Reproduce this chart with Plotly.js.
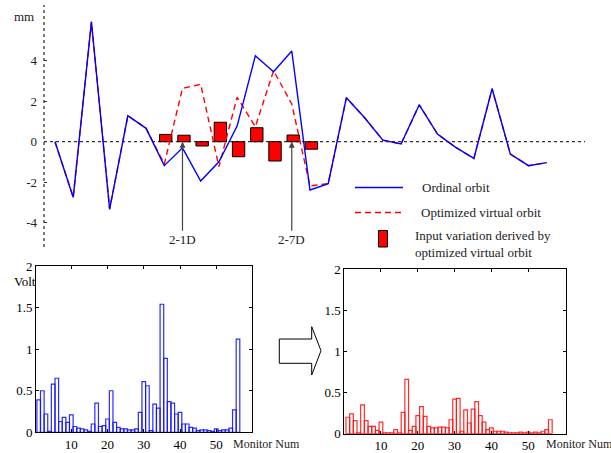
<!DOCTYPE html>
<html>
<head>
<meta charset="utf-8">
<script src="https://cdn.plot.ly/plotly-3.0.1.min.js"></script>
<style>html,body{margin:0;padding:0;background:#fff;}#chart{width:611px;height:453px;}</style>
</head>
<body>
<div id="chart"></div>
<script>
// ---- Top panel: orbit (mm) at 28 monitors ----
const monitorIdx = [1,2,3,4,5,6,7,8,9,10,11,12,13,14,15,16,17,18,19,20,21,22,23,24,25,26,27,28];
const ordinalOrbit = [0, -2.74, 5.91, -3.32, 1.28, 0.66, -1.18, -0.30, -1.94, -0.99, 0.77, 4.24, 3.45, 4.47,
                      -2.38, -2.07, 2.17, 1.18, 0.08, -0.11, 1.82, 0.38, -0.28, -0.82, 2.61, -0.61, -1.18, -1.03];
const optimizedOrbit = [0, -2.74, 5.91, -3.32, 1.28, 0.66, -1.10, 2.63, 2.83, -1.23, 2.19, 0.74, 3.50, 1.86,
                        -2.18, -2.07, 2.17, 1.18, 0.08, -0.11, 1.82, 0.38, -0.28, -0.82, 2.61, -0.61, -1.18, -1.03];
const inputIdx = [7, 8, 9, 10, 11, 12, 13, 14, 15];
const inputVariation = [0.36, 0.32, -0.21, 0.96, -0.74, 0.69, -0.95, 0.33, -0.37];
const topYTicks = [-4, -2, 0, 2, 4];
const topYTickText = ['-4', '-2', '0', '2', '4'];
const arrowLabels = ['2-1D', '2-7D'];
const arrowIdx = [8, 14];

// ---- Bottom panels: Volt per monitor (56 monitors) ----
const bpmIdx = [];
for (let i = 1; i <= 56; i++) bpmIdx.push(i);
const beforeVolt = [0.39,0.50,0.22,0.01,0.58,0.65,0.13,0.18,0.12,0.21,
                    0.07,0.05,0.04,0.03,0.01,0.10,0.35,0.07,0.08,0.16,
                    0.50,0.12,0.06,0.04,0.04,0.03,0.03,0.04,0.24,0.61,
                    0.56,0.02,0.34,0.29,1.54,0.89,0.37,0.35,0.22,0.24,
                    0.10,0.10,0.06,0.05,0.02,0.03,0.03,0.02,0.01,0.04,
                    0.02,0.03,0.03,0.05,0.27,1.12];
const afterVolt = [0.20,0.24,0.16,0.01,0.35,0.16,0.09,0.09,0.04,0.14,
                   0.01,0.01,0.01,0.05,0.01,0.26,0.66,0.04,0.09,0.22,
                   0.33,0.21,0.09,0.07,0.07,0.08,0.08,0.07,0.17,0.42,
                   0.43,0.03,0.29,0.13,0.30,0.39,0.22,0.14,0.05,0.07,
                   0.03,0.03,0.03,0.02,0.01,0.01,0.01,0.02,0.01,0.02,
                   0.01,0.02,0.01,0.03,0.05,0.17];
const voltTicks = [0, 0.5, 1, 1.5, 2];
const voltTickText = ['0', '0.5', '1', '1.5', '2'];
const monitorTicks = [10, 20, 30, 40, 50];

const FONT = 'Liberation Serif, Times New Roman, serif';

const traces = [
  {type:'scatter', mode:'lines', x: monitorIdx, y: optimizedOrbit, xaxis:'x', yaxis:'y',
   line:{color:'#ff0000', width:1.4, dash:'6px,4px'}, name:'Optimized virtual orbit'},
  {type:'scatter', mode:'lines', x: monitorIdx, y: ordinalOrbit, xaxis:'x', yaxis:'y',
   line:{color:'#0000ff', width:1.4}, name:'Ordinal orbit'},
  {type:'bar', x: inputIdx, y: inputVariation, xaxis:'x', yaxis:'y', width:0.68, offset:-0.26,
   marker:{color:'#ff0000', line:{color:'#000', width:1}}, name:'Input variation'},
  {type:'bar', x: bpmIdx, y: beforeVolt, xaxis:'x2', yaxis:'y2', width:1,
   marker:{color:'rgba(255,255,255,0)', line:{color:'rgba(20,20,255,0.9)', width:1.2}}, name:'before'},
  {type:'bar', x: bpmIdx, y: afterVolt, xaxis:'x3', yaxis:'y3', width:1,
   marker:{color:'rgba(255,255,255,0)', line:{color:'rgba(255,20,20,0.9)', width:1.2}}, name:'after'}
];

function px(xp){ return xp/611; }
function py(yp){ return 1 - yp/453; }

const bottomAxisCommon = {showgrid:false, zeroline:false, showline:true, linecolor:'#000', linewidth:1,
  mirror:'ticks', ticks:'inside', ticklen:3, tickcolor:'#000', tickfont:{family:FONT, size:13, color:'#000'}};

function txt(text, xp, yp, size, anchor, color) {
  return {text:text, xref:'paper', yref:'paper', x:px(xp), y:py(yp), xanchor:anchor || 'center', yanchor:'middle',
          showarrow:false, font:{family:FONT, size:size || 13, color:color || '#222'}};
}

const layout = {
  width: 611, height: 453,
  margin: {l:0, r:0, t:0, b:0},
  paper_bgcolor: '#fff', plot_bgcolor: 'rgba(0,0,0,0)',
  showlegend: false,
  barmode: 'overlay',
  font: {family: FONT, size: 13, color: '#000'},
  xaxis: {domain:[px(44), px(585)], range:[0.396, 30.1], anchor:'y', showgrid:false, zeroline:false,
          showticklabels:false, ticks:'', showline:false, fixedrange:true},
  yaxis: {domain:[py(245), py(7)], range:[-5.09, 6.64], anchor:'x', tickvals: topYTicks, ticktext: topYTickText,
          showgrid:false, zeroline:false, showline:false, ticks:'inside', ticklen:3, tickcolor:'#333',
          tickfont:{family:FONT, size:13, color:'#222'}, ticklabelstandoff: 6},
  xaxis2: Object.assign({}, bottomAxisCommon, {domain:[px(36), px(252.3)], range:[0.26, 59.95], anchor:'y2', tickvals: monitorTicks}),
  yaxis2: Object.assign({}, bottomAxisCommon, {domain:[py(432.3), py(266)], range:[0, 2], anchor:'x2', tickvals: voltTicks, ticktext: voltTickText}),
  xaxis3: Object.assign({}, bottomAxisCommon, {domain:[px(344.3), px(565.7)], range:[0.05, 60.18], anchor:'y3', tickvals: monitorTicks}),
  yaxis3: Object.assign({}, bottomAxisCommon, {domain:[py(433.7), py(269.3)], range:[0, 2], anchor:'x3', tickvals: voltTicks, ticktext: voltTickText}),
  shapes: [
    // dashed zero line of top panel
    {type:'line', xref:'paper', yref:'y', x0:px(44), x1:px(585), y0:0, y1:0, line:{color:'#333', width:1.3, dash:'3px,3px'}, layer:'below'},
    // dashed y axis of top panel
    {type:'line', xref:'paper', yref:'paper', x0:px(44), x1:px(44), y0:py(247), y1:py(5), line:{color:'#333', width:1.3, dash:'3px,3px'}},
    // legend samples
    {type:'line', xref:'paper', yref:'paper', x0:px(355), x1:px(403), y0:py(187.5), y1:py(187.5), line:{color:'#0000ff', width:1.4}},
    {type:'line', xref:'paper', yref:'paper', x0:px(355), x1:px(403), y0:py(212.5), y1:py(212.5), line:{color:'#ff0000', width:1.4, dash:'6px,4px'}},
    {type:'rect', xref:'paper', yref:'paper', x0:px(378.5), x1:px(387.5), y0:py(247), y1:py(230.5), fillcolor:'#ff0000', line:{color:'#000', width:1}},
    // hollow block arrow between bottom panels
    {type:'path', xref:'paper', yref:'paper',
     path:'M '+px(279.3)+' '+py(339)+' L '+px(311.7)+' '+py(339)+' L '+px(311.7)+' '+py(326.7)+' L '+px(321)+' '+py(350.7)+
          ' L '+px(311.7)+' '+py(375)+' L '+px(311.7)+' '+py(363.3)+' L '+px(279.3)+' '+py(363.3)+' Z',
     fillcolor:'#fff', line:{color:'#000', width:1}}
  ],
  annotations: [
    txt('mm', 24, 17, 13),
    {text:arrowLabels[0], xref:'x', yref:'y', x:arrowIdx[0], y:0, showarrow:true, ax:0, ay:98, arrowhead:2, arrowsize:1, arrowwidth:1.2, arrowcolor:'#444', standoff:0, font:{family:FONT, size:13, color:'#222'}},
    {text:arrowLabels[1], xref:'x', yref:'y', x:arrowIdx[1], y:0, showarrow:true, ax:0, ay:98, arrowhead:2, arrowsize:1, arrowwidth:1.2, arrowcolor:'#444', standoff:0, font:{family:FONT, size:13, color:'#222'}},
    txt('Ordinal orbit', 420, 187.5, 13, 'left'),
    txt('Optimized virtual orbit', 419, 212.5, 13, 'left'),
    txt('Input variation derived by', 413, 235, 13, 'left'),
    txt('optimized virtual orbit', 413, 253, 13, 'left'),
    txt('Volt', 25, 281, 13, 'center', '#000'),
    txt('Monitor Num', 231, 444, 12, 'left'),
    txt('Monitor Num', 544, 444, 12, 'left')
  ]
};

Plotly.newPlot('chart', traces, layout, {staticPlot:true, displayModeBar:false});
</script>
</body>
</html>
